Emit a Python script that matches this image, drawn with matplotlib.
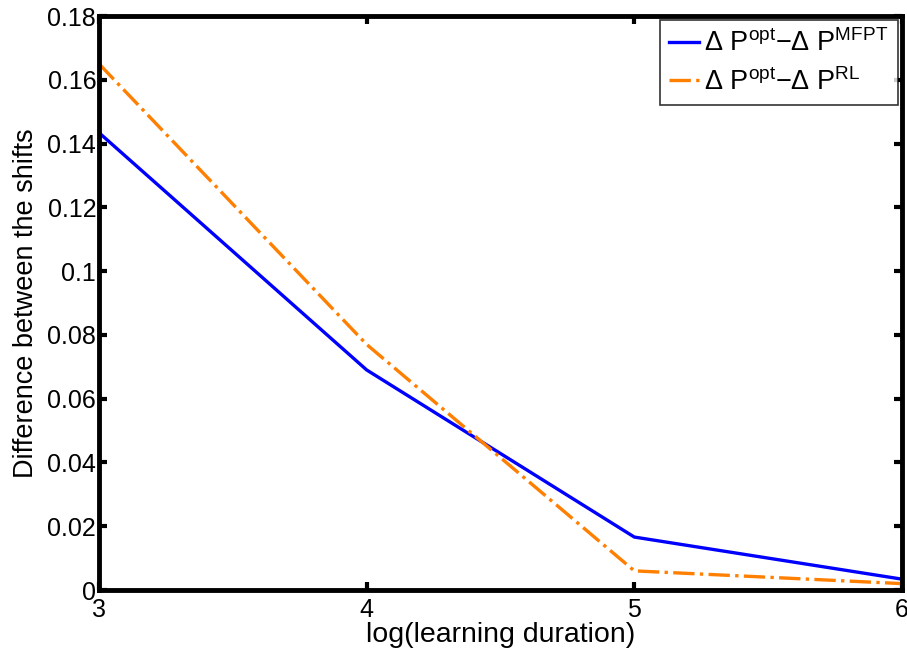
import matplotlib
matplotlib.use("Agg")
import matplotlib.pyplot as plt

plt.rcParams['font.family'] = ['Liberation Sans', 'DejaVu Sans']
plt.rcParams['mathtext.fontset'] = 'custom'
plt.rcParams['mathtext.rm'] = 'Liberation Sans'
plt.rcParams['mathtext.it'] = 'Liberation Sans'

log_duration = [3, 4, 5, 6]
diff_mfpt = [0.1434, 0.0690, 0.0166, 0.0034]
diff_rl = [0.1650, 0.0770, 0.0060, 0.0020]

y_ticks = [0, 0.02, 0.04, 0.06, 0.08, 0.1, 0.12, 0.14, 0.16, 0.18]
y_tick_labels = ['0', '0.02', '0.04', '0.06', '0.08', '0.1', '0.12', '0.14', '0.16', '0.18']
x_ticks = [3, 4, 5, 6]

fig = plt.figure(figsize=(9.07, 6.54), dpi=100)
ax = fig.add_axes([99 / 907, 1 - 590 / 654, (902 - 99) / 907, (590 - 16) / 654])

ax.plot(log_duration, diff_mfpt, color='#0000ff', lw=2.4,
        label=r'$\mathrm{\Delta\ P^{opt}{-}\Delta\ P^{MFPT}}$')
ax.plot(log_duration, diff_rl, color='#ff7f00', lw=2.4, linestyle='-.',
        label=r'$\mathrm{\Delta\ P^{opt}{-}\Delta\ P^{RL}}$')

ax.set_xlim(3, 6)
ax.set_ylim(0, 0.18)
ax.set_xticks(x_ticks)
ax.set_xticklabels([str(t) for t in x_ticks])
ax.set_yticks(y_ticks)
ax.set_yticklabels(y_tick_labels)
ax.tick_params(direction='in', length=6, width=3, labelsize=18, pad=2)
ax.tick_params(axis='x', pad=6)
ax.tick_params(top=True, right=True)
for s in ax.spines.values():
    s.set_linewidth(3.5)

ax.set_xlabel('log(learning duration)', fontsize=20.5, labelpad=0)
ax.set_ylabel('Difference between the shifts', fontsize=19.5, labelpad=6)

leg = ax.legend(loc='upper right', fontsize=19.5, frameon=True, fancybox=False,
                edgecolor='black', borderaxespad=0.15, handlelength=1.1,
                handletextpad=0.2, labelspacing=0.4, borderpad=0.35)
leg.get_frame().set_linewidth(1.2)

fig.savefig('out.png', dpi=100)
